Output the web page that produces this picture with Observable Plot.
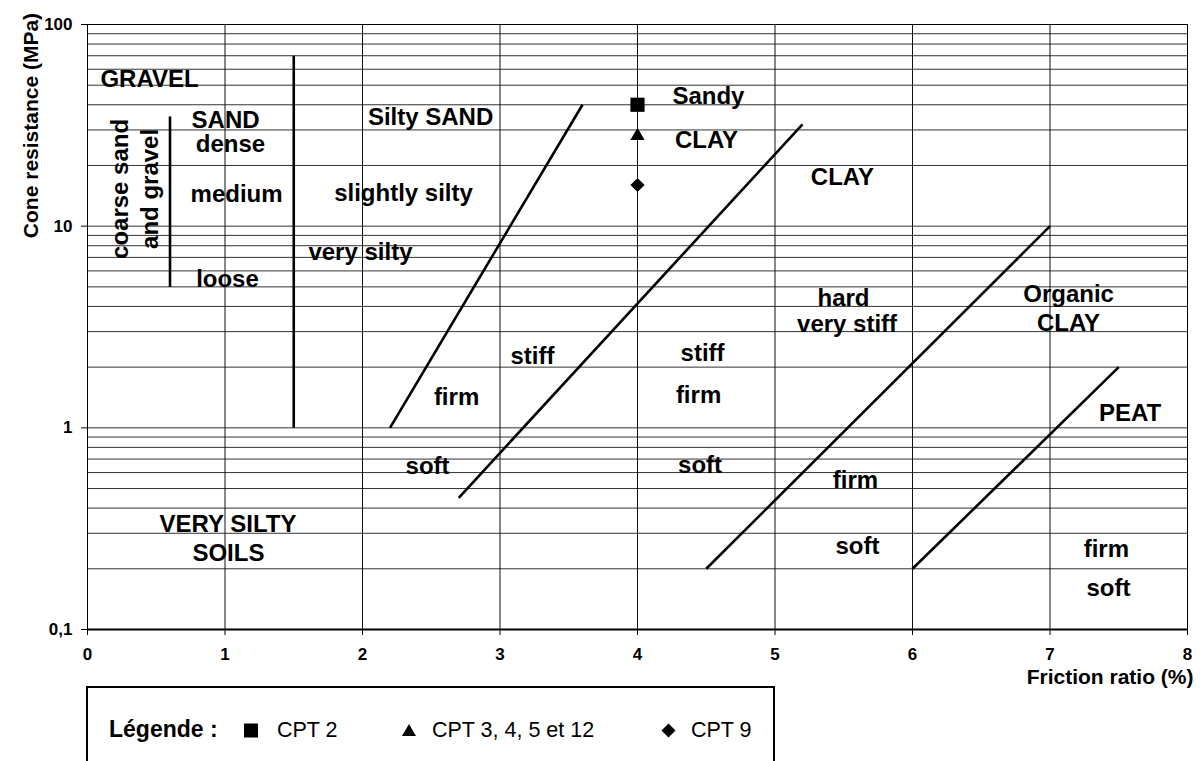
<!DOCTYPE html>
<html>
<head>
<meta charset="utf-8">
<script src="https://cdn.jsdelivr.net/npm/d3@7"></script>
<script src="https://cdn.jsdelivr.net/npm/@observablehq/plot@0.6"></script>
<style>
  body { margin: 0; background: #fff; width: 1200px; height: 761px; overflow: hidden; position: relative;
         font-family: "Liberation Sans", Arial, Helvetica, sans-serif; }
  #chart { position: absolute; left: 0; top: 0; }
  #legend { position: absolute; left: 86px; top: 686px; width: 685px; height: 120px; border: 2px solid #000; background: #fff; }
  #legend svg { display: block; }
</style>
</head>
<body>
<div id="chart"></div>
<div id="legend"></div>
<script>
// ---------- data ----------
const xTicks = [0, 1, 2, 3, 4, 5, 6, 7, 8];
const xGrid = [1, 2, 3, 4, 5, 6, 7, 8];
const yTicks = [0.1, 1, 10, 100];
const yTickLabels = ["0,1", "1", "10", "100"];
const yGrid = [0.2, 0.3, 0.4, 0.5, 0.6, 0.7, 0.8, 0.9,
               1, 2, 3, 4, 5, 6, 7, 8, 9,
               10, 20, 30, 40, 50, 60, 70, 80, 90, 100];

// zone boundary segments (friction ratio %, cone resistance MPa)
const boundX1 = [0.6, 1.5, 2.2, 2.7, 4.5, 6.0];
const boundY1 = [5,   1,   1,   0.45, 0.2, 0.2];
const boundX2 = [0.6, 1.5, 3.6, 5.2, 7.0, 7.5];
const boundY2 = [35,  70,  40,  32,  10,  2];

// CPT results
const cptNames = ["CPT 2", "CPT 3, 4, 5 et 12", "CPT 9"];
const cptX = [4, 4, 4];
const cptY = [40, 28, 16];

// zone labels
const labelText = ["GRAVEL", "SAND", "dense", "medium", "loose",
  "Silty SAND", "slightly silty", "very silty",
  "Sandy", "CLAY", "CLAY",
  "hard", "very stiff", "Organic", "CLAY",
  "stiff", "stiff", "firm", "firm", "PEAT",
  "soft", "soft", "firm",
  "VERY SILTY", "SOILS", "soft", "firm", "soft"];
const labelX = [0.451, 1.004, 1.04, 1.084, 1.018,
  2.495, 2.298, 1.985,
  4.516, 4.502, 5.49,
  5.498, 5.524, 7.135, 7.135,
  3.236, 4.473, 2.684, 4.444, 7.582,
  2.473, 4.455, 5.585,
  1.022, 1.025, 5.6, 7.41, 7.425];
const labelY = [53.7, 33.6, 25.4, 14.4, 5.44,
  34.6, 14.5, 7.4,
  44.2, 26.8, 17.4,
  4.40, 3.25, 4.58, 3.31,
  2.26, 2.34, 1.41, 1.445, 1.18,
  0.643, 0.651, 0.551,
  0.332, 0.2395, 0.258, 0.249, 0.1606];

const vLabelText = ["coarse sand\nand gravel"];
const vLabelX = [0.331];
const vLabelY = [15.3];

const xTitle = "Friction ratio (%)";
const yTitle = "Cone resistance (MPa)";
const legendTitle = "Légende :";

// ---------- tables ----------
const segments = boundX1.map((d, i) => ({x1: d, y1: boundY1[i], x2: boundX2[i], y2: boundY2[i]}));
const cpts = cptNames.map((n, i) => ({name: n, x: cptX[i], y: cptY[i]}));
const labels = labelText.map((t, i) => ({text: t, x: labelX[i], y: labelY[i]}));
const vLabels = vLabelText.map((t, i) => ({text: t, x: vLabelX[i], y: vLabelY[i]}));
const yTickRows = yTicks.map((v, i) => ({v, t: yTickLabels[i]}));

const FONT = '"Liberation Sans", Arial, Helvetica, sans-serif';

const chart = Plot.plot({
  width: 1200,
  height: 761,
  marginLeft: 87,
  marginRight: 13,
  marginTop: 24,
  marginBottom: 132,
  style: {fontFamily: FONT, background: "white", color: "black", overflow: "visible"},
  x: {domain: [0, 8], label: null},
  y: {type: "log", domain: [0.1, 100], label: null},
  marks: [
    Plot.ruleY(yGrid, {stroke: "#333", strokeWidth: 1}),
    Plot.ruleX(xGrid, {stroke: "#111", strokeWidth: 1}),
    Plot.frame({stroke: "#000", strokeWidth: 1}),
    Plot.ruleY([0.1], {stroke: "#000", strokeWidth: 2}),
    Plot.axisY(yTicks, {tickSize: 6, tickFormat: () => "", label: null, stroke: "#000"}),
    Plot.axisX(xTicks, {tickSize: 6, tickFormat: () => "", label: null, stroke: "#000"}),
    Plot.text(yTickRows, {y: "v", text: "t", frameAnchor: "left", dx: -15, textAnchor: "end",
      fontSize: 17, fontWeight: "bold", fill: "#000"}),
    Plot.text(xTicks, {x: d => d, text: d => String(d), frameAnchor: "bottom", dy: 30,
      fontSize: 17, fontWeight: "bold", fill: "#000"}),
    Plot.link(segments, {x1: "x1", y1: "y1", x2: "x2", y2: "y2", stroke: "#000", strokeWidth: 2.6}),
    Plot.text(labels, {x: "x", y: "y", text: "text", fontSize: 24, fontWeight: "bold", fill: "#000"}),
    Plot.text(vLabels, {x: "x", y: "y", text: "text", fontSize: 24, fontWeight: "bold", fill: "#000",
      rotate: -90, lineHeight: 1.25}),
    Plot.dot(cpts.filter(d => d.name === cptNames[0]), {x: "x", y: "y", symbol: () => "square", r: 8, fill: "#000", stroke: "none"}),
    Plot.dot(cpts.filter(d => d.name === cptNames[1]), {x: "x", y: "y", symbol: () => "triangle", r: 5.3, fill: "#000", stroke: "none"}),
    Plot.dot(cpts.filter(d => d.name === cptNames[2]), {x: "x", y: "y", symbol: () => "diamond2", r: 6.4, fill: "#000", stroke: "none"}),
    Plot.text([yTitle], {frameAnchor: "top-left", dx: -64, dy: 101, rotate: -90, fontSize: 21,
      fontWeight: "bold", textAnchor: "middle", fill: "#000"}),
    Plot.text([xTitle], {frameAnchor: "bottom-right", dx: 6, dy: 54, fontSize: 21,
      fontWeight: "bold", textAnchor: "end", fill: "#000"})
  ]
});
document.getElementById("chart").appendChild(chart);

// ---------- legend (HTML box below the plot area) ----------
const lsvg = d3.select("#legend").append("svg").attr("width", 685).attr("height", 120)
  .style("font-family", FONT);
lsvg.append("text").attr("x", 21).attr("y", 49).attr("font-size", 23).attr("font-weight", "bold")
  .text(legendTitle);
const symPos = [163, 321, 580.5];
const txtPos = [189, 344, 603];
const symTypes = [d3.symbolSquare, d3.symbolTriangle, d3.symbolDiamond2];
const symSizes = [196, 85, 125];
cptNames.forEach((n, i) => {
  lsvg.append("path")
    .attr("d", d3.symbol(symTypes[i], symSizes[i])())
    .attr("transform", `translate(${symPos[i]},${i === 1 ? 44 : 42.5})`)
    .attr("fill", "#000");
  lsvg.append("text").attr("x", txtPos[i]).attr("y", 49).attr("font-size", 21.5).text(n);
});
</script>
</body>
</html>
